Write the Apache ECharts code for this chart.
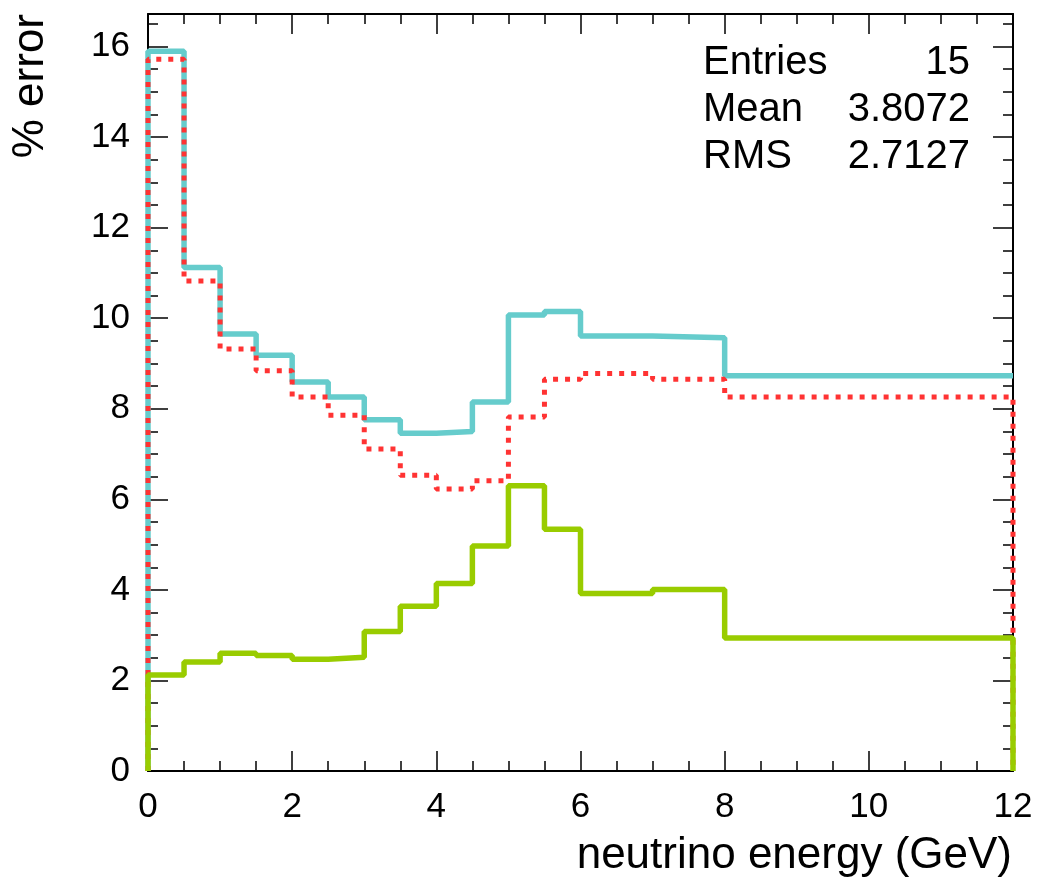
<!DOCTYPE html>
<html>
<head>
<meta charset="utf-8">
<script src="https://cdn.jsdelivr.net/npm/echarts@6/dist/echarts.min.js"></script>
<style>
  html, body { margin: 0; padding: 0; background: #fff; }
  #chart { width: 1038px; height: 880px; }
</style>
</head>
<body>
<div id="chart"></div>
<script>
// bin edges (GeV) and per-bin % error for the three histograms
const binEdges = [0, 0.5, 1, 1.5, 2, 2.5, 3, 3.5, 4, 4.5, 5, 5.5, 6, 7, 8, 12]
const cyanValues = [15.9, 11.12, 9.65, 9.18, 8.59, 8.26, 7.76, 7.46, 7.5, 8.15, 10.07, 10.15, 9.61, 9.57, 8.73]
const redValues = [15.72, 10.82, 9.32, 8.84, 8.26, 7.86, 7.11, 6.53, 6.23, 6.41, 7.82, 8.65, 8.78, 8.65, 8.26]
const greenValues = [2.12, 2.41, 2.6, 2.55, 2.47, 2.51, 3.08, 3.64, 4.14, 4.97, 6.3, 5.34, 3.92, 4.01, 2.94]
const xTicks = [0, 2, 4, 6, 8, 10, 12]
const yTicks = [0, 2, 4, 6, 8, 10, 12, 14, 16]
const stats = [['Entries', '15'], ['Mean', '3.8072'], ['RMS', '2.7127']]

const FONT = 'Liberation Sans'

// outline of a histogram: rise from 0 at the first edge, step through bins, drop at the end
const histLine = (values, dropAtEnd) => {
  const pts = [[binEdges[0], 0]]
  values.forEach((v, i) => pts.push([binEdges[i], v]))
  pts.push([binEdges[binEdges.length - 1], values[values.length - 1]])
  if (dropAtEnd) pts.push([binEdges[binEdges.length - 1], 0])
  return pts
}

const chart = echarts.init(document.getElementById('chart'))

const axisCommon = {
  type: 'value',
  axisLine: { show: true, onZero: false, lineStyle: { color: '#000', width: 2 } },
  axisTick: { show: true, inside: true, length: 20, lineStyle: { color: '#000', width: 1.5 } },
  minorTick: { show: true, splitNumber: 4, length: 10, lineStyle: { color: '#000', width: 1.5 } },
  splitLine: { show: false }
}

const labelStyle = { color: '#000', fontFamily: FONT, fontSize: 35 }

const option = {
  animation: false,
  grid: { left: 148, right: 25, top: 14, bottom: 109 },
  xAxis: [
    {
      ...axisCommon,
      position: 'bottom',
      min: 0, max: 12, interval: 2,
      axisLabel: {
        ...labelStyle, margin: 19,
        formatter: v => (xTicks.includes(v) ? String(v) : '')
      }
    },
    {
      ...axisCommon,
      position: 'top',
      min: 0, max: 12, interval: 2,
      axisLabel: { show: false }
    }
  ],
  yAxis: [
    {
      ...axisCommon,
      position: 'left',
      min: 0, max: 16.72, interval: 2,
      axisLabel: {
        ...labelStyle, margin: 18, showMaxLabel: false,
        formatter: v => (yTicks.includes(v) ? String(v) : '')
      }
    },
    {
      ...axisCommon,
      position: 'right',
      min: 0, max: 16.72, interval: 2,
      axisLabel: { show: false }
    }
  ],
  series: [
    {
      type: 'line', step: 'end', symbol: 'none', z: 2,
      data: histLine(cyanValues, false),
      lineStyle: { color: '#66cccc', width: 5.5, cap: 'butt' }
    },
    {
      type: 'line', step: 'end', symbol: 'none', z: 3,
      data: histLine(redValues, true),
      lineStyle: { color: '#ff3333', width: 5, type: [5, 7], cap: 'butt' }
    },
    {
      type: 'line', step: 'end', symbol: 'none', z: 4,
      data: histLine(greenValues, true),
      lineStyle: { color: '#99cc00', width: 5.5, cap: 'butt' }
    }
  ],
  graphic: [
    {
      type: 'text', x: 53, y: 14, rotation: Math.PI / 2,
      style: { text: '% error', font: `44px "${FONT}"`, fill: '#000', textAlign: 'right', textVerticalAlign: 'bottom' }
    },
    {
      type: 'text', x: 1012, y: 878,
      style: { text: 'neutrino energy (GeV)', font: `44px "${FONT}"`, fill: '#000', textAlign: 'right', textVerticalAlign: 'bottom' }
    },
    ...stats.flatMap(([name, val], i) => [
      {
        type: 'text', x: 703, y: 83 + i * 47,
        style: { text: name, font: `40px "${FONT}"`, fill: '#000', textAlign: 'left', textVerticalAlign: 'bottom' }
      },
      {
        type: 'text', x: 970, y: 83 + i * 47,
        style: { text: val, font: `40px "${FONT}"`, fill: '#000', textAlign: 'right', textVerticalAlign: 'bottom' }
      }
    ])
  ]
}

chart.setOption(option)
</script>
</body>
</html>
